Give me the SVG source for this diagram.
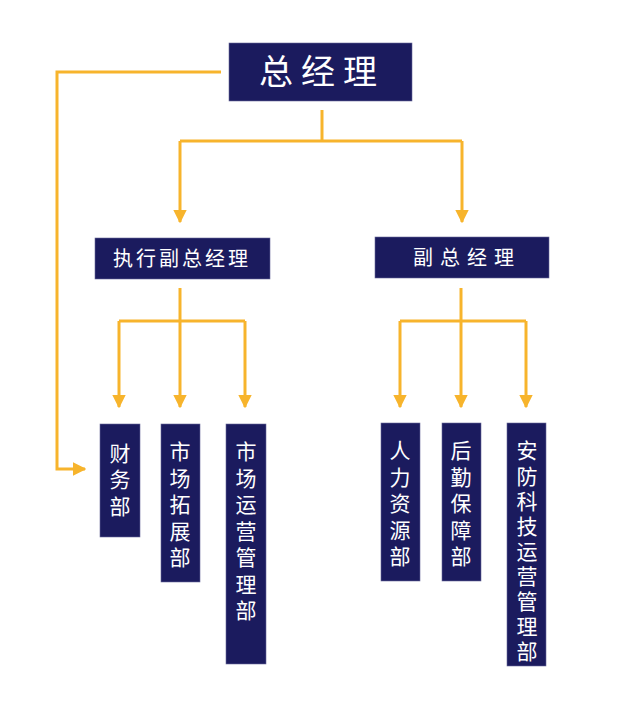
<svg xmlns="http://www.w3.org/2000/svg" width="617" height="724" viewBox="0 0 617 724">
<style>
.box{fill:#1b1b5e;stroke:#6a6a99;stroke-width:0.6}
.t{fill:#fff;font-family:"Noto Sans CJK SC",sans-serif;text-anchor:middle}
.v{font-size:21px}
.c{fill:none;stroke:#f7b42c;stroke-width:3}
</style>
<defs><marker id="a" viewBox="0 0 10 10" refX="9" refY="5" markerWidth="4.5" markerHeight="4.5" orient="auto" markerUnits="strokeWidth"><path d="M0,0L10,5L0,10z" fill="#f7b42c"/></marker></defs>
<rect width="617" height="724" fill="#fff"/>
<g id="connectors">
<path class="c" d="M221,72H57V469H85" marker-end="url(#a)"/>
<path class="c" d="M322,110V141"/>
<path class="c" d="M180,141H462"/>
<path class="c" d="M180,141V222" marker-end="url(#a)"/>
<path class="c" d="M462,141V222" marker-end="url(#a)"/>
<path class="c" d="M180,288V321"/>
<path class="c" d="M119,321H245"/>
<path class="c" d="M119,321V407" marker-end="url(#a)"/>
<path class="c" d="M180,321V407" marker-end="url(#a)"/>
<path class="c" d="M245,321V407" marker-end="url(#a)"/>
<path class="c" d="M461,288V321"/>
<path class="c" d="M400,321H526"/>
<path class="c" d="M400,321V407" marker-end="url(#a)"/>
<path class="c" d="M461,321V407" marker-end="url(#a)"/>
<path class="c" d="M526,321V407" marker-end="url(#a)"/>
</g>
<g id="n0"><rect class="box" x="229" y="43" width="183" height="58"/><text class="t" x="322" y="84" font-size="34" letter-spacing="8">总经理</text></g>
<g id="n1"><rect class="box" x="95" y="238" width="175" height="41"/><text class="t" x="182" y="266" font-size="20" letter-spacing="3">执行副总经理</text></g>
<g id="n2"><rect class="box" x="375" y="237" width="174" height="41"/><text class="t" x="467" y="265" font-size="20" letter-spacing="7">副总经理</text></g>
<g id="n3"><rect class="box" x="100" y="424" width="40" height="113"/><text class="t v" x="120"><tspan x="120" y="461">财</tspan><tspan x="120" y="487">务</tspan><tspan x="120" y="514">部</tspan></text></g>
<g id="n4"><rect class="box" x="161" y="424" width="39" height="158"/><text class="t v" x="180"><tspan x="180" y="459">市</tspan><tspan x="180" y="486">场</tspan><tspan x="180" y="512">拓</tspan><tspan x="180" y="539">展</tspan><tspan x="180" y="565">部</tspan></text></g>
<g id="n5"><rect class="box" x="226" y="424" width="40" height="240"/><text class="t v" x="246"><tspan x="246" y="459">市</tspan><tspan x="246" y="486">场</tspan><tspan x="246" y="512">运</tspan><tspan x="246" y="539">营</tspan><tspan x="246" y="565">管</tspan><tspan x="246" y="592">理</tspan><tspan x="246" y="618">部</tspan></text></g>
<g id="n6"><rect class="box" x="381" y="423" width="39" height="158"/><text class="t v" x="400"><tspan x="400" y="458">人</tspan><tspan x="400" y="485">力</tspan><tspan x="400" y="511">资</tspan><tspan x="400" y="538">源</tspan><tspan x="400" y="564">部</tspan></text></g>
<g id="n7"><rect class="box" x="442" y="423" width="39" height="158"/><text class="t v" x="461"><tspan x="461" y="458">后</tspan><tspan x="461" y="485">勤</tspan><tspan x="461" y="511">保</tspan><tspan x="461" y="538">障</tspan><tspan x="461" y="564">部</tspan></text></g>
<g id="n8"><rect class="box" x="507" y="423" width="39" height="243"/><text class="t v" x="527"><tspan x="527" y="458">安</tspan><tspan x="527" y="484">防</tspan><tspan x="527" y="509">科</tspan><tspan x="527" y="534">技</tspan><tspan x="527" y="559">运</tspan><tspan x="527" y="584">营</tspan><tspan x="527" y="609">管</tspan><tspan x="527" y="634">理</tspan><tspan x="527" y="659">部</tspan></text></g>
</svg>
